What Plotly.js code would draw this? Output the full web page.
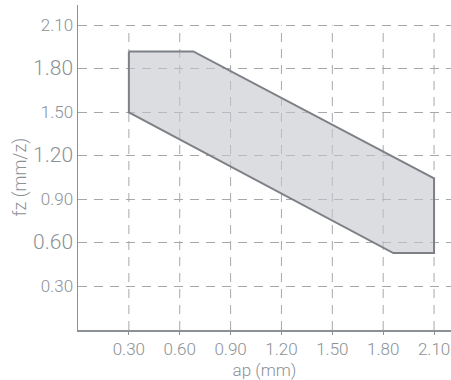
<!DOCTYPE html>
<html>
<head>
<meta charset="utf-8">
<script src="https://cdn.plot.ly/plotly-3.0.1.min.js"></script>
<style>html,body{margin:0;padding:0;background:#fff;}#chart{width:451px;height:380px;}</style>
</head>
<body>
<div id="chart"></div>
<script>
// Operating window polygon (ap in mm, fz in mm/z)
const apValues = [0.30, 0.68, 2.10, 2.10, 1.86, 0.30, 0.30];
const fzValues = [1.92, 1.92, 1.045, 0.53, 0.53, 1.50, 1.92];

const xTickVals = [0.30, 0.60, 0.90, 1.20, 1.50, 1.80, 2.10];
const xTickLabels = ['0.30', '0.60', '0.90', '1.20', '1.50', '1.80', '2.10'];
const yTickVals = [0.30, 0.60, 0.90, 1.20, 1.50, 1.80, 2.10];
const yTickLabels = ['0.30', '0.60', '0.90', '1.20', '1.50', '1.80', '2.10'];
const yLargeLabels = ['0.60', '1.20', '1.80'];
const yTitle = 'fz (mm/z)';
const xTitle = 'ap (mm)';

const grey = '#8c9196';
const fontFam = 'Roboto, "Liberation Sans", sans-serif';

const yText = yTickLabels.map(t => yLargeLabels.includes(t) ? '<span style="font-size:21px">' + t + '</span>' : t);

const gridColor = '#a6a9ac';
const yMax = Math.max(...yTickVals);
const shapes = xTickVals.map(v => ({
  type: 'line', xref: 'x', yref: 'y', x0: v, x1: v, y0: 0, y1: yMax,
  line: {color: gridColor, width: 1, dash: '9px,7px'}, layer: 'below'
}));

const trace = {
  x: apValues, y: fzValues, type: 'scatter', mode: 'lines',
  fill: 'toself', fillcolor: 'rgba(195,199,204,0.6)',
  line: {color: '#7d8185', width: 2}, hoverinfo: 'skip'
};

const fnt = (s) => ({size: s, color: grey, family: fontFam, weight: 300});

const layout = {
  width: 451, height: 380,
  margin: {l: 78, r: 0, t: 5, b: 50},
  paper_bgcolor: '#fff', plot_bgcolor: '#fff',
  showlegend: false,
  font: fnt(16),
  xaxis: {
    range: [0, 2.2], tickvals: xTickVals, ticktext: xTickLabels,
    showgrid: false, zeroline: false,
    showline: true, linecolor: grey, linewidth: 1.5,
    ticks: 'outside', ticklen: 3, tickcolor: grey,
    tickfont: fnt(17),
    title: {text: xTitle, font: fnt(17), standoff: 6}
  },
  yaxis: {
    range: [0, 2.24], tickvals: yTickVals, ticktext: yText,
    showgrid: true, gridcolor: gridColor, gridwidth: 1, griddash: '9px,7px',
    zeroline: false,
    showline: true, linecolor: grey, linewidth: 1.5,
    ticks: '', ticklen: 0,
    tickfont: fnt(17)
  },
  annotations: [{
    text: yTitle, xref: 'paper', yref: 'paper', x: -0.155, y: 0.47,
    xanchor: 'center', yanchor: 'middle', textangle: -90, showarrow: false,
    font: fnt(18)
  }],
  shapes: shapes
};

Plotly.newPlot('chart', [trace], layout, {displayModeBar: false, staticPlot: true});
</script>
</body>
</html>
